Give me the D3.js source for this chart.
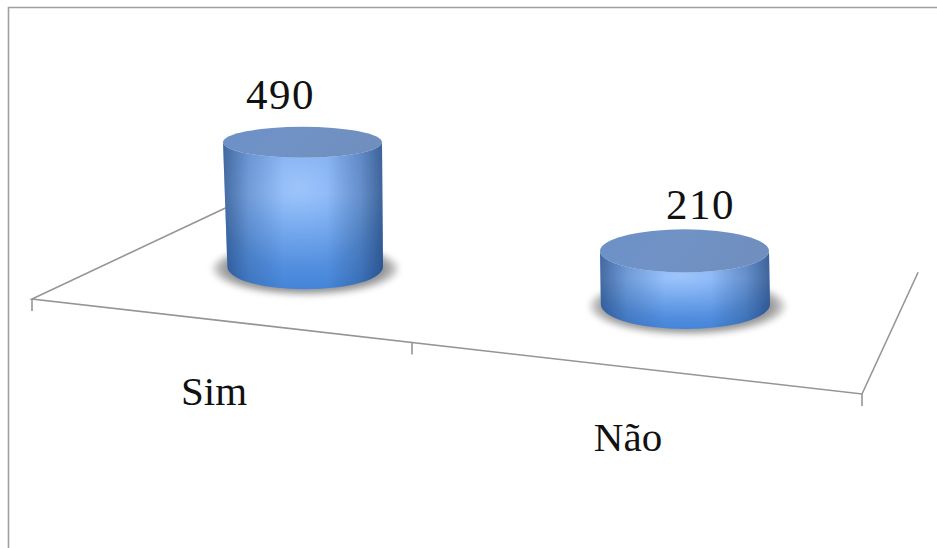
<!DOCTYPE html>
<html>
<head>
<meta charset="utf-8">
<script src="https://cdn.jsdelivr.net/npm/d3@7"></script>
<style>html,body{margin:0;background:#fff}svg{display:block}text{font-family:"Liberation Serif",serif;fill:#111}</style>
</head>
<body>
<div id="c"></div>
<script>
const categories = ["Sim", "Não"];
const seriesValues = [490, 210];
const W = 937, H = 548;

const svg = d3.select("#c").append("svg").attr("width", W).attr("height", H);
const defs = svg.append("defs");

// scales
const u = d3.scaleBand().domain(categories).range([0, 1]);
const frontX = d3.scaleLinear().domain([0, .5, 1]).range([32, 412, 862]);
const frontY = d3.scaleLinear().domain([32, 862]).range([299, 394]);
const depthX = d3.scaleLinear().domain([0, 1]).range([97, 31]);
const depthY = d3.scaleLinear().domain([0, 1]).range([-48, -68]);
const rxScale = d3.scaleLinear().domain([0, 1]).range([77, 87]);
const hScale = d3.scaleLinear().domain([0, 500]).range([0, 127]);
const ryScale = d3.scaleLinear().domain([142, 306]).range([15.5, 24.6]);

// frame
const axisColor = "#959595";
svg.append("path").attr("d", `M8.5 ${H}V7.5H${W}`).attr("fill", "none").attr("stroke", "#a0a0a0").attr("stroke-width", 1.6);

// filters and gradients
defs.append("filter").attr("id", "blur").attr("x", "-20%").attr("y", "-40%").attr("width", "140%").attr("height", "180%")
  .append("feGaussianBlur").attr("stdDeviation", 3);
defs.append("filter").attr("id", "soft").append("feGaussianBlur").attr("stdDeviation", .6);

const vert = defs.append("linearGradient").attr("id", "vert").attr("x1", 0).attr("y1", 0).attr("x2", 0).attr("y2", 1);
[[0, "#7ba9ec"], [.35, "#82b2f4"], [.7, "#5f98e4"], [1, "#4484d8"]].forEach(s => vert.append("stop").attr("offset", s[0]).attr("stop-color", s[1]));

const horiz = defs.append("linearGradient").attr("id", "horiz");
[[0, "#12305e", .55], [.16, "#12305e", .2], [.38, "#12305e", 0], [.65, "#12305e", 0], [.86, "#12305e", .28], [1, "#12305e", .6]]
  .forEach(s => horiz.append("stop").attr("offset", s[0]).attr("stop-color", s[1]).attr("stop-opacity", s[2]));

const glow = defs.append("radialGradient").attr("id", "glow").attr("cx", .47).attr("cy", .3).attr("r", .55);
[[0, "#b0d2ff", .6], [.6, "#a0c8ff", .18], [1, "#a0c8ff", 0]]
  .forEach(s => glow.append("stop").attr("offset", s[0]).attr("stop-color", s[1]).attr("stop-opacity", s[2]));

const topGrad = defs.append("linearGradient").attr("id", "topFill").attr("x1", 0).attr("y1", 0).attr("x2", 1).attr("y2", .2);
[[0, "#6c90c8"], [.5, "#7092c4"], [1, "#6f8fbf"]].forEach(s => topGrad.append("stop").attr("offset", s[0]).attr("stop-color", s[1]));

const shadowG = defs.append("radialGradient").attr("id", "shadow");
[[0, "#8a8a8a"], [.82, "#909090"], [.93, "#b8b8b8"], [1, "#ececec"]].forEach(s => shadowG.append("stop").attr("offset", s[0]).attr("stop-color", s[1]));

// floor
const floor = svg.append("g").attr("fill", "none").attr("stroke", axisColor).attr("stroke-width", 1.6);
const x0 = frontX(0), x1 = frontX(1);
floor.append("path").attr("d", d3.line()([[x0 + depthX(0) * 2.0, frontY(x0) + depthY(0) * 1.9], [x0, frontY(x0)], [x1, frontY(x1)], [x1 + depthX(1) * 1.81, frontY(x1) + depthY(1) * 1.79]]));
[0, .5, 1].forEach(t => {
  const x = frontX(t);
  floor.append("line").attr("x1", x).attr("x2", x).attr("y1", frontY(x)).attr("y2", frontY(x) + 12);
});

// cylinders
const data = categories.map((c, i) => {
  const t = u(c) + u.bandwidth() / 2;
  const fx = frontX(t), fy = frontY(fx);
  const cx = fx + depthX(t), by = fy + depthY(t) - 1;
  const ty = by - hScale(seriesValues[i]);
  return { c, v: seriesValues[i], t, fx, fy, cx, by, ty, rx: rxScale(t), ryT: ryScale(ty), ryB: ryScale(by) };
});

const g = svg.selectAll("g.cyl").data(data).join("g").attr("class", "cyl");
g.append("ellipse").attr("cx", d => d.cx + 3).attr("cy", d => d.by + 2).attr("rx", d => d.rx + 14).attr("ry", d => d.ryB + 4)
  .attr("fill", "url(#shadow)").attr("filter", "url(#blur)");

const sidePath = d => {
  const l = d.cx - d.rx, r = d.cx + d.rx, inset = d.rx * (d.v > 300 ? .055 : .01);
  return `M${l} ${d.ty}L${l + inset} ${d.by}A${d.rx - inset / 2} ${d.ryB} 0 0 0 ${r + 1} ${d.by}L${r} ${d.ty}A${d.rx} ${d.ryT} 0 0 1 ${l} ${d.ty}Z`;
};
const faces = g.append("g").attr("filter", "url(#soft)");
faces.append("path").attr("d", sidePath).attr("fill", "url(#vert)");
faces.append("path").attr("d", sidePath).attr("fill", "url(#glow)");
faces.append("path").attr("d", sidePath).attr("fill", "url(#horiz)");
faces.append("ellipse").attr("cx", d => d.cx).attr("cy", d => d.ty).attr("rx", d => d.rx).attr("ry", d => d.ryT).attr("fill", "url(#topFill)");

// value labels
g.append("text").attr("x", d => d.cx + (d.v > 300 ? -22 : 16)).attr("y", d => d.ty - d.ryT - (d.v > 300 ? 18 : 10))
  .attr("text-anchor", "middle").attr("font-size", 43).attr("letter-spacing", 1.5).text(d => d.v);

// category labels
g.append("text").attr("x", d => d.fx - (d.v > 300 ? 8 : 9)).attr("y", d => d.fy + (d.v > 300 ? 84 : 83))
  .attr("text-anchor", "middle").attr("font-size", 41).text(d => d.c);
</script>
</body>
</html>
